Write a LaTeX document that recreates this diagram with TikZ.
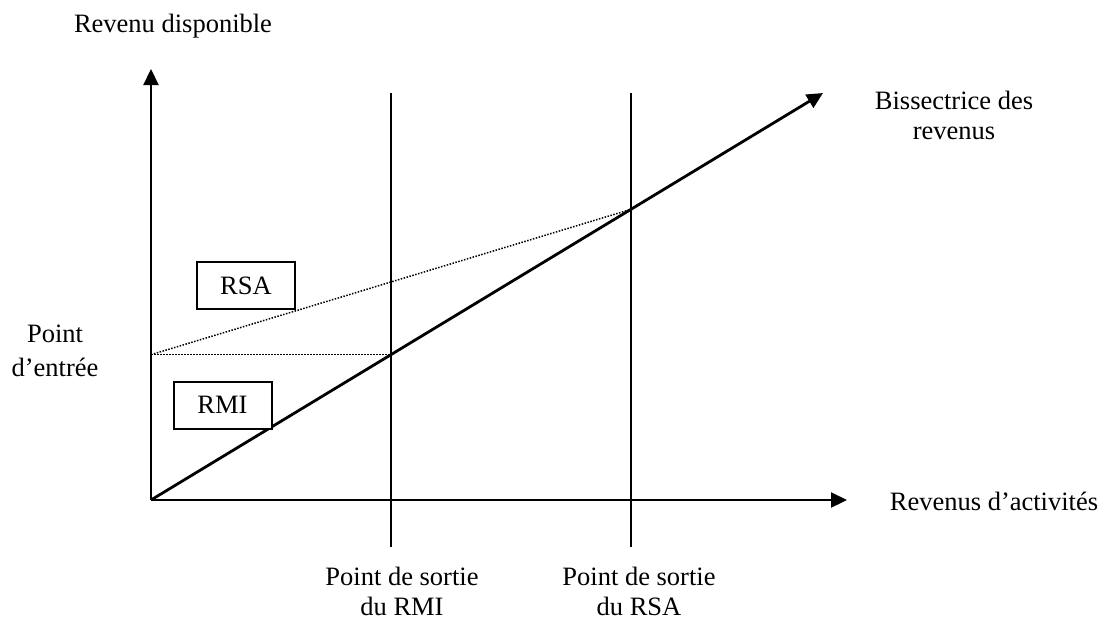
\documentclass[tikz,border=0pt]{standalone}
\usepackage{fontspec}
\setmainfont{Liberation Serif}
\usetikzlibrary{arrows.meta, positioning}

\begin{document}
\begin{tikzpicture}[x=0.5pt, y=-0.5pt,
  font=\fontsize{13.25}{15}\selectfont,
  axis/.style={line width=1.1pt, -{Triangle[length=8pt,width=7.5pt]}},
  guide/.style={line width=1pt},
  aid/.style={line width=0.75pt, dash pattern=on 0.75pt off 0.75pt},
  lbl/.style={align=center, inner sep=0pt},
  tag/.style={draw, fill=white, line width=1pt, minimum width=49pt, minimum height=23.5pt, inner sep=0pt}]
  \useasboundingbox (0,0) rectangle (1105,618);
  \coordinate (O) at (151,500);
  \coordinate (ytip) at (151,69);
  \coordinate (xtip) at (847,500);
  \coordinate (bistip) at (823,93);
  \coordinate (rmitop) at (391,93);
  \coordinate (rmibot) at (391,547);
  \coordinate (rsatop) at (631,93);
  \coordinate (rsabot) at (631,547);
  \coordinate (rmiexit) at (intersection of O--bistip and rmitop--rmibot);
  \coordinate (rsaexit) at (intersection of O--bistip and rsatop--rsabot);
  \coordinate (entry) at (O |- rmiexit);

  \draw[aid] (entry) -- (rmiexit);
  \draw[aid] (entry) -- (rsaexit);
  \draw[guide] (rmitop) -- (rmibot);
  \draw[guide] (rsatop) -- (rsabot);
  \draw[axis] (O) -- (ytip);
  \draw[axis] (O) -- (xtip);
  \draw[axis, line width=1.4pt] (O) -- (bistip);

  \node[tag] (rsa) at (246,285.5) {RSA};
  \node[tag] (rmi) at (222.5,405) {RMI};

  \node[anchor=base] (ylbl) at (173,32) {Revenu disponible};
  \node[anchor=base] (xlbl) at (994,510) {Revenus d'activités};
  \node[lbl] (bislbl) at (954,115) {Bissectrice des\\revenus};
  \node[lbl] (entrylbl) at (55,351) {Point\\[2pt]d'entrée};
  \node[lbl] (rmilbl) at (402,591) {Point de sortie\\du RMI};
  \node[lbl] (rsalbl) at (639,591) {Point de sortie\\du RSA};
\end{tikzpicture}
\end{document}
